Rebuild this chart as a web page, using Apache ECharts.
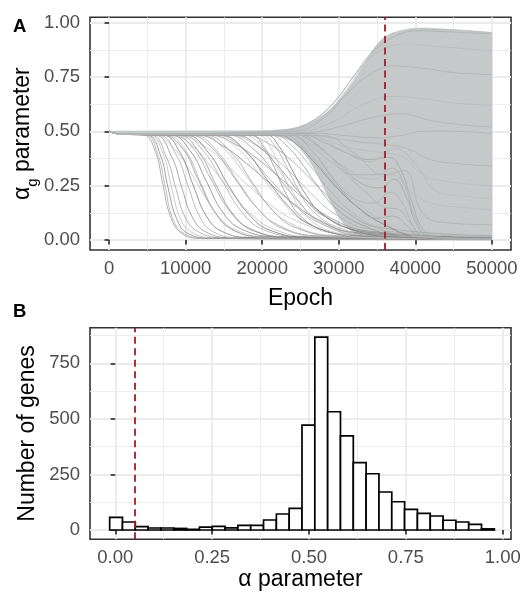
<!DOCTYPE html>
<html><head><meta charset="utf-8">
<script src="https://cdn.jsdelivr.net/npm/echarts@6/dist/echarts.min.js"></script>
<style>html,body{margin:0;padding:0;background:#fff}#c{width:524px;height:596px}</style>
</head><body><div id="c"></div>
<script>
// ---------- Panel A data ----------
const epochTicks = [0, 10000, 20000, 30000, 40000, 50000];
const epochMinor = [5000, 15000, 25000, 35000, 45000];
const alphaTicksA = [0, 0.25, 0.5, 0.75, 1.0];
const alphaMinorA = [0.125, 0.375, 0.625, 0.875];
const thresholdEpoch = 36000;

// envelope of the dense bundle of trajectories (upper and lower edges)
const bandUpperPts = [[0,.5],[2000,.501],[20000,.502],[21000,.503],[22000,.506],[23000,.509],[24000,.514],[25000,.522],[26000,.534],[27000,.552],[28000,.575],[29000,.605],[30000,.64],[31000,.683],[32000,.73],[33000,.79],[34000,.852],[35000,.9],[36000,.935],[37000,.952],[38000,.963],[39000,.97],[40000,.974],[41000,.975],[42500,.973],[45000,.967],[47500,.961],[50000,.955]];
const bandLowerPts = [[0,.5],[1500,.486],[20000,.484],[21000,.482],[22000,.477],[23000,.468],[24000,.452],[25000,.42],[26000,.375],[27000,.315],[28000,.245],[29000,.17],[30000,.105],[31000,.06],[32000,.03],[33000,.013],[34000,.004],[35000,0],[50000,0]];

const lineStart = [[0,.5],[1500,.487]];
// individual trajectories that fall towards 0
const fallLines = [
 [[4500,.483],[6000,.41],[7000,.26],[8000,.11],[9500,.03],[12000,.008],[50000,.002]],
 [[4800,.483],[6300,.40],[7300,.25],[8300,.10],[9800,.03],[12500,.008],[50000,.002]],
 [[5000,.483],[6700,.39],[7700,.24],[8800,.10],[10300,.03],[13500,.008],[50000,.002]],
 [[5300,.483],[7000,.40],[8100,.25],[9300,.10],[10800,.035],[14000,.01],[50000,.003]],
 [[5500,.483],[7500,.38],[8700,.24],[10000,.10],[11800,.035],[15000,.01],[50000,.003]],
 [[6000,.483],[8200,.38],[9500,.24],[10800,.11],[12500,.04],[16000,.01],[50000,.003]],
 [[6000,.483],[8500,.42],[10500,.32],[12500,.20],[14500,.10],[17000,.04],[21000,.012],[50000,.003]],
 [[6500,.483],[8800,.39],[10300,.25],[11800,.11],[13500,.04],[17000,.01],[50000,.003]],
 [[7000,.483],[9300,.40],[11000,.25],[12700,.11],[14700,.04],[18500,.012],[50000,.004]],
 [[7000,.483],[9600,.42],[11600,.28],[13600,.14],[16000,.05],[20000,.015],[50000,.004]],
 [[7500,.483],[10000,.41],[12000,.26],[14000,.12],[16500,.04],[21000,.012],[50000,.004]],
 [[8000,.483],[10600,.41],[12700,.27],[14800,.13],[17300,.05],[22000,.015],[50000,.004]],
 [[8000,.483],[11000,.43],[13500,.33],[16000,.22],[18500,.12],[21500,.05],[26000,.015],[50000,.004]],
 [[8500,.483],[11000,.42],[13300,.28],[15600,.14],[18300,.055],[23000,.015],[50000,.005]],
 [[9000,.483],[11800,.40],[14000,.25],[16400,.11],[19000,.04],[24000,.012],[50000,.004]],
 [[9000,.483],[12500,.43],[15500,.34],[18500,.24],[21500,.15],[25000,.08],[30000,.03],[50000,.008]],
 [[9500,.483],[12300,.41],[14800,.27],[17300,.13],[20000,.05],[25000,.015],[50000,.005]],
 [[10000,.483],[13000,.40],[15600,.25],[18200,.12],[21000,.045],[26000,.013],[50000,.004]],
 [[10500,.483],[13500,.42],[16300,.29],[19000,.16],[22000,.07],[27000,.02],[50000,.006]],
 [[11000,.483],[14300,.40],[17000,.26],[19800,.13],[22800,.05],[28000,.015],[50000,.005]],
 [[11500,.483],[15000,.43],[18000,.35],[21000,.26],[24000,.17],[27500,.09],[32000,.035],[50000,.01]],
 [[12000,.483],[15000,.42],[17800,.30],[20500,.17],[23500,.08],[29000,.022],[50000,.007]],
 [[12500,.483],[16000,.40],[18800,.26],[21500,.13],[24500,.055],[30000,.016],[50000,.005]],
 [[13000,.483],[16500,.44],[19500,.37],[22500,.28],[25500,.19],[29000,.10],[34000,.04],[50000,.012]],
 [[13500,.483],[16800,.42],[19500,.31],[22300,.19],[25300,.09],[31000,.025],[50000,.008]],
 [[14000,.483],[16000,.46],[18000,.40],[20000,.32],[22000,.24],[24500,.15],[28000,.07],[33000,.02],[50000,.006]],
 [[14500,.483],[17800,.41],[20600,.28],[23300,.16],[26300,.07],[32000,.02],[50000,.006]],
 [[15500,.483],[18800,.42],[21600,.31],[24400,.19],[27400,.09],[33000,.028],[50000,.008]],
 [[16000,.483],[19000,.44],[21500,.38],[24000,.30],[26500,.21],[29500,.12],[34000,.05],[50000,.015]],
 [[16500,.483],[19500,.43],[22300,.33],[25100,.21],[28100,.11],[34000,.035],[50000,.01]],
 [[17500,.483],[20200,.42],[22600,.30],[24800,.18],[27500,.08],[33000,.025],[50000,.008]],
 [[18000,.483],[20500,.45],[23000,.39],[25500,.31],[28000,.22],[31000,.13],[35000,.06],[50000,.02]],
 [[18500,.483],[20000,.44],[21500,.34],[23000,.22],[25000,.11],[28500,.04],[34000,.012],[50000,.004]],
 [[19500,.483],[21000,.43],[22500,.32],[24000,.20],[26000,.10],[29500,.035],[35000,.01],[50000,.004]],
 [[20000,.483],[21500,.44],[23000,.35],[24600,.24],[26700,.13],[30500,.05],[36000,.015],[50000,.005]],
 [[20500,.483],[22200,.43],[23800,.33],[25500,.22],[27800,.12],[31500,.05],[37000,.015],[50000,.005]],
 [[21000,.483],[23000,.44],[25000,.36],[27000,.26],[29500,.15],[33000,.07],[38000,.02],[50000,.006]],
 [[21500,.483],[24000,.43],[26500,.33],[29000,.22],[32000,.12],[35500,.05],[40000,.015],[50000,.006]],
 [[22000,.483],[24500,.44],[27000,.35],[29500,.25],[32500,.15],[36000,.07],[40000,.02],[50000,.008]],
 [[22500,.485],[25500,.43],[28000,.34],[30500,.24],[33500,.14],[37000,.06],[41000,.015],[50000,.006]]
];
// trajectories that hover mid-low and drop after the threshold
const humpLines = [
 [[23000,.485],[26000,.44],[29000,.36],[32000,.30],[35000,.30],[37000,.33],[38500,.26],[40000,.10],[41500,.02],[44000,.006],[50000,.004]],
 [[24000,.486],[27000,.44],[30000,.35],[33000,.26],[35500,.24],[37200,.28],[38800,.20],[40200,.07],[42000,.015],[50000,.004]],
 [[22500,.485],[25500,.42],[28500,.30],[31500,.20],[34500,.17],[36800,.22],[38300,.17],[39800,.06],[41500,.012],[50000,.003]],
 [[25000,.488],[28000,.45],[31000,.40],[34000,.37],[36500,.38],[38000,.33],[39500,.18],[41000,.05],[43000,.01],[50000,.004]],
 [[24500,.487],[27500,.43],[30500,.32],[33500,.22],[36000,.15],[37800,.14],[39300,.08],[41000,.02],[50000,.004]],
 [[23500,.485],[26500,.41],[29500,.27],[32500,.15],[35000,.10],[37000,.11],[38800,.07],[40500,.02],[50000,.003]]
];
// trajectories that settle at intermediate / high values
const settleLines = [
 [[24000,.488],[28000,.46],[32000,.42],[36000,.40],[38500,.38],[41000,.30],[44000,.27],[50000,.25]],
 [[25000,.49],[29000,.47],[33000,.45],[36000,.44],[39000,.42],[42000,.37],[46000,.35],[50000,.34]],
 [[23000,.486],[27000,.43],[31000,.33],[34000,.28],[37000,.30],[39500,.22],[42000,.17],[46000,.15],[50000,.14]],
 [[26000,.495],[30000,.52],[34000,.56],[38000,.58],[42000,.55],[46000,.53],[50000,.52]],
 [[25000,.50],[29000,.54],[33000,.62],[37000,.66],[41000,.65],[45000,.63],[50000,.62]],
 [[24000,.50],[28000,.56],[31000,.67],[34000,.76],[37000,.80],[41000,.79],[45000,.77],[50000,.76]],
 [[23500,.502],[27000,.56],[30000,.66],[33000,.80],[36000,.88],[39000,.90],[43000,.89],[50000,.87]],
 [[22500,.503],[25500,.53],[28500,.60],[31500,.73],[34500,.87],[37500,.94],[40500,.962],[44000,.958],[50000,.948]],
 [[22000,.503],[25000,.52],[28000,.57],[31000,.69],[34000,.84],[37000,.93],[40000,.965],[43000,.968],[50000,.952]],
 [[27000,.49],[31000,.48],[35000,.47],[38000,.48],[41000,.50],[45000,.50],[50000,.49]],
 [[26000,.485],[30000,.42],[34000,.36],[37500,.42],[40000,.35],[43000,.22],[47000,.20],[50000,.19]],
 [[28000,.48],[32000,.40],[36000,.30],[38500,.32],[41000,.12],[44000,.08],[50000,.07]]
];

// ---------- Panel B data ----------
const alphaTicksB = [0, 0.25, 0.5, 0.75, 1.0];
const alphaMinorB = [0.125, 0.375, 0.625, 0.875];
const countTicks = [0, 250, 500, 750];
const countMinor = [125, 375, 625, 875];
const thresholdAlpha = 0.05;
const binWidth = 0.0331;
const binCenters = [0.0020,0.0351,0.0682,0.1013,0.1344,0.1675,0.2006,0.2337,0.2668,0.2999,0.3330,0.3661,0.3992,0.4323,0.4654,0.4985,0.5316,0.5647,0.5978,0.6309,0.6640,0.6971,0.7302,0.7633,0.7964,0.8295,0.8626,0.8957,0.9288,0.9619];
const binCounts = [57,36,15,9,9,7,3,13,16,10,21,21,45,72,97,472,868,532,423,303,253,171,127,93,75,63,44,36,25,5];

// ---------- chart ----------
const FONT = '"Liberation Sans", Arial, sans-serif';
const TICKCOL = '#333333';
const GRIDCOL = '#ebebeb';
const RED = '#a51c22';

function majorAxis(gridIndex, min, max, ticks, fmt, isY, name, nameGap, extra) {
  return Object.assign({
    type: 'value', gridIndex, min, max,
    axisLine: { show: false },
    axisTick: { show: true, customValues: ticks, length: 4.6, lineStyle: { color: TICKCOL, width: 1.7 } },
    axisLabel: { show: true, customValues: ticks, formatter: fmt, color: '#4d4d4d', fontSize: 18.5, fontFamily: FONT, margin: isY ? 10 : 9 },
    splitLine: { show: true, lineStyle: { color: GRIDCOL, width: 1.8 } },
    name: name, nameLocation: 'middle', nameGap: nameGap, nameMoveOverlap: false,
    nameTextStyle: { color: '#000', fontSize: 23, fontFamily: FONT }
  }, extra || {});
}
function minorAxis(gridIndex, min, max, ticks) {
  return {
    type: 'value', gridIndex, min, max,
    axisLine: { show: false },
    axisTick: { show: false, customValues: ticks },
    axisLabel: { show: false, customValues: ticks },
    splitLine: { show: true, lineStyle: { color: GRIDCOL, width: 0.9 } }
  };
}

const xA = [-2500, 52500], yA = [-0.046, 1.0244];
const xB = [-0.0653, 1.0214], yB = [-41.8, 910];

const series = [];
// dense bundle drawn as a filled envelope
series.push({
  type: 'custom', xAxisIndex: 0, yAxisIndex: 0, z: 2, silent: true, clip: true,
  data: [[0]],
  renderItem: function (params, api) {
    const pts = bandUpperPts.map(p => api.coord(p))
      .concat(bandLowerPts.slice().reverse().map(p => api.coord(p)));
    return { type: 'polygon', shape: { points: pts },
      style: { fill: '#c6c9c9', stroke: '#bcbfbf', lineWidth: 0.6 } };
  }
});
const fallShades = ['#9a9a9a','#b0b0b0','#858585','#bcbcbc','#a3a3a3','#929292','#c4c4c4','#aaaaaa','#7a7a7a'];
function addLine(pts, color, z) {
  series.push({
    type: 'line', xAxisIndex: 0, yAxisIndex: 0, z: z,
    data: lineStart.concat(pts), smooth: 0.45,
    symbol: 'none', silent: true, lineStyle: { width: 0.8, color: color }
  });
}
fallLines.forEach((l, i) => addLine(l, fallShades[i % fallShades.length], 3));
humpLines.forEach((l, i) => addLine(l, i % 2 ? '#a5a8a8' : '#afb2b2', 3));
settleLines.forEach((l, i) => addLine(l, i % 2 ? '#b0b3b3' : '#b8bbbb', 3));
// threshold line A
series.push({
  type: 'line', xAxisIndex: 0, yAxisIndex: 0, data: [], silent: true,
  markLine: { silent: true, symbol: 'none', label: { show: false }, z: 10,
    lineStyle: { color: RED, width: 1.8, type: [7, 4.5] },
    data: [{ xAxis: thresholdEpoch }] }
});
// histogram B
series.push({
  type: 'custom', xAxisIndex: 2, yAxisIndex: 2, silent: true, z: 3,
  data: binCenters.map((c, i) => [c, binCounts[i]]),
  renderItem: function (params, api) {
    const c = api.value(0), n = api.value(1);
    const p0 = api.coord([c - binWidth / 2, n]);
    const p1 = api.coord([c + binWidth / 2, 0]);
    return { type: 'rect', shape: { x: p0[0], y: p0[1], width: p1[0] - p0[0], height: p1[1] - p0[1] },
      style: { fill: '#ffffff', stroke: '#000000', lineWidth: 1.7 } };
  },
  markLine: { silent: true, symbol: 'none', label: { show: false }, z: 10,
    lineStyle: { color: RED, width: 1.8, type: [7, 4.5] },
    data: [{ xAxis: thresholdAlpha }] }
});

const option = {
  animation: false,
  textStyle: { fontFamily: FONT },
  grid: [
    { left: 90, top: 17.3, width: 421, height: 232.7, show: true, borderColor: '#333333', borderWidth: 1.6, outerBoundsMode: 'none', containLabel: false },
    { left: 90, top: 327.7, width: 421, height: 211.6, show: true, borderColor: '#333333', borderWidth: 1.6, outerBoundsMode: 'none', containLabel: false }
  ],
  xAxis: [
    majorAxis(0, xA[0], xA[1], epochTicks, v => String(Math.round(v)), false, 'Epoch', 37),
    minorAxis(0, xA[0], xA[1], epochMinor),
    majorAxis(1, xB[0], xB[1], alphaTicksB, v => v.toFixed(2), false, 'α parameter', 29),
    minorAxis(1, xB[0], xB[1], alphaMinorB)
  ],
  yAxis: [
    majorAxis(0, yA[0], yA[1], alphaTicksA, v => v.toFixed(2), true, '{a|α}{s|g}{a| parameter}', 35, {
      nameTextStyle: { color: '#000', fontSize: 23, fontFamily: FONT,
        rich: { a: { fontSize: 23, fontFamily: FONT, color: '#000', lineHeight: 24, verticalAlign: 'top' },
                s: { fontSize: 15, fontFamily: FONT, color: '#000', lineHeight: 44 } } }
    }),
    minorAxis(0, yA[0], yA[1], alphaMinorA),
    majorAxis(1, yB[0], yB[1], countTicks, v => String(Math.round(v)), true, 'Number of genes', 51),
    minorAxis(1, yB[0], yB[1], countMinor)
  ],
  graphic: [
    { type: 'text', left: 13, top: 17, style: { text: 'A', font: 'bold 18.5px ' + FONT, fill: '#000' } },
    { type: 'text', left: 13, top: 302, style: { text: 'B', font: 'bold 18.5px ' + FONT, fill: '#000' } }
  ],
  series: series
};
const chart = echarts.init(document.getElementById('c'), null, { renderer: 'canvas' });
chart.setOption(option);
</script></body></html>
